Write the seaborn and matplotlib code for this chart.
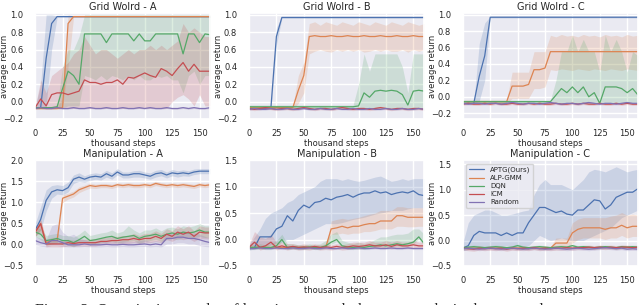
import numpy as np
import matplotlib
matplotlib.use("Agg")
import matplotlib.pyplot as plt
import seaborn as sns

# sample positions (thousand steps): 0, 5, ..., 160 -> 33 values
STEPS = list(range(0, 161, 5))
ALGOS = ["APTG(Ours)", "ALP-GMM", "DQN", "ICM", "Random"]

# ---------------- Grid World - A ----------------
GA_APTG = [-0.07, -0.07, 0.5, 0.9] + [0.98] * 29
GA_APTG_LO = [-0.08, -0.08, -0.05, 0.6] + [0.97] * 29
GA_APTG_HI = [-0.06, 0.2, 1.0, 1.0] + [0.99] * 29
GA_ALP = [-0.08, -0.08, -0.08, -0.08, -0.08, -0.07, 0.9] + [0.98] * 26
GA_ALP_LO = [-0.09, -0.09, -0.09, -0.09, -0.09, -0.08, 0.4] + [0.97] * 26
GA_ALP_HI = [-0.07, -0.07, -0.07, -0.07, -0.07, 0.05, 1.0] + [0.99] * 26
GA_DQN = [-0.07, -0.07, -0.07, -0.07, -0.06, 0.15, 0.35, 0.3, 0.2, 0.78, 0.78,
          0.78, 0.78, 0.68, 0.78, 0.78, 0.78, 0.78, 0.7, 0.78, 0.7, 0.7,
          0.78, 0.78, 0.78, 0.78, 0.78, 0.55, 0.78, 0.78, 0.68, 0.78, 0.77]
GA_DQN_LO = [-0.08, -0.08, -0.08, -0.08, -0.08, -0.07, -0.05, -0.05, -0.05, 0.3, 0.28,
             0.25, 0.3, 0.25, 0.3, 0.28, 0.25, 0.3, 0.25, 0.3, 0.25, 0.25,
             0.3, 0.28, 0.3, 0.25, 0.25, 0.1, 0.3, 0.35, 0.2, 0.3, 0.3]
GA_DQN_HI = [-0.06, -0.06, -0.06, -0.06, -0.04, 0.4, 0.6, 0.6, 0.75, 1.0, 1.0] + [1.0] * 22
GA_ICM = [-0.07, 0.03, -0.05, 0.08, 0.1, 0.1, 0.08, 0.1, 0.12, 0.25, 0.22,
          0.22, 0.2, 0.22, 0.22, 0.25, 0.2, 0.28, 0.27, 0.3, 0.33, 0.3,
          0.28, 0.38, 0.35, 0.3, 0.38, 0.45, 0.35, 0.43, 0.35, 0.35, 0.35]
GA_ICM_LO = [-0.08] * 25 + [0.0, 0.05, 0.08, 0.03, -0.05, 0.08, -0.05, -0.05]
GA_ICM_HI = [-0.06, 0.25, 0.1, 0.3, 0.35, 0.4, 0.45, 0.55, 0.6, 0.75, 0.65,
             0.55, 0.6, 0.6, 0.55, 0.5, 0.55, 0.6, 0.55, 0.6, 0.6, 0.65,
             0.6, 0.65, 0.6, 0.65, 0.7, 0.9, 0.8, 0.85, 0.8, 0.75, 0.75]
GA_RND = [-0.08, -0.07, -0.08, -0.08, -0.07, -0.08, -0.08, -0.07, -0.08, -0.08, -0.07,
          -0.08, -0.08, -0.07, -0.08, -0.08, -0.07, -0.08, -0.08, -0.07, -0.08, -0.07,
          -0.08, -0.08, -0.07, -0.08, -0.08, -0.07, -0.08, -0.07, -0.08, -0.08, -0.07]

# ---------------- Grid World - B ----------------
GB_APTG = [-0.08, -0.08, -0.08, -0.08, -0.07, 0.75] + [0.97] * 27
GB_APTG_LO = [-0.09, -0.09, -0.09, -0.09, -0.09, 0.65] + [0.96] * 27
GB_APTG_HI = [-0.07, -0.07, -0.07, -0.07, -0.05, 0.85] + [0.98] * 27
GB_ALP = [-0.07] * 9 + [0.13, 0.3] + [
    0.75, 0.76, 0.75, 0.75, 0.76, 0.75, 0.75, 0.76, 0.75, 0.75, 0.76,
    0.75, 0.75, 0.76, 0.75, 0.75, 0.76, 0.75, 0.75, 0.76, 0.75, 0.75]
GB_ALP_LO = [-0.09] * 9 + [-0.02, 0.1] + [
    0.55, 0.58, 0.6, 0.58, 0.57, 0.6, 0.58, 0.6, 0.58, 0.6, 0.57,
    0.58, 0.6, 0.58, 0.6, 0.58, 0.58, 0.6, 0.57, 0.6, 0.58, 0.6]
GB_ALP_HI = [-0.05] * 9 + [0.3, 0.45] + [
    0.9, 0.92, 0.88, 0.92, 0.9, 0.88, 0.92, 0.9, 0.88, 0.92, 0.9,
    0.88, 0.92, 0.9, 0.88, 0.92, 0.9, 0.88, 0.92, 0.9, 0.88, 0.9]
GB_DQN = [-0.06] * 20 + [-0.05, 0.1, 0.05, 0.12, 0.13, 0.12, 0.13, 0.12, 0.08, -0.04, 0.12, 0.13, 0.12]
GB_DQN_LO = [-0.08] * 33
GB_DQN_HI = [-0.04] * 20 + [0.2, 0.55, 0.35, 0.55, 0.55, 0.55, 0.55, 0.55, 0.4, 0.1, 0.55, 0.55, 0.55]
GB_ICM = [-0.08, -0.09, -0.08, -0.07, -0.08, -0.09, -0.08, -0.08, -0.09, -0.08, -0.07,
          -0.08, -0.09, -0.08, -0.08, -0.09, -0.08, -0.07, -0.08, -0.09, -0.08, -0.08,
          -0.09, -0.08, -0.07, -0.08, -0.09, -0.08, -0.08, -0.09, -0.08, -0.08, -0.09]
GB_RND = [-0.09, -0.08, -0.09, -0.09, -0.08, -0.09, -0.09, -0.08, -0.09, -0.09, -0.08,
          -0.09, -0.09, -0.08, -0.09, -0.09, -0.08, -0.09, -0.09, -0.08, -0.09, -0.09,
          -0.08, -0.09, -0.09, -0.08, -0.09, -0.09, -0.08, -0.09, -0.09, -0.08, -0.09]

# ---------------- Grid World - C ----------------
GC_APTG = [-0.08, -0.08, -0.08, 0.25, 0.5] + [0.97] * 28
GC_APTG_LO = [-0.09, -0.09, -0.09, -0.05, 0.2] + [0.96] * 28
GC_APTG_HI = [-0.07, -0.07, -0.07, 0.65, 0.9] + [0.98] * 28
GC_ALP = [-0.06] * 9 + [0.13, 0.13, 0.13, 0.15, 0.33, 0.33, 0.35] + [0.55] * 17
GC_ALP_LO = [-0.08] * 9 + [-0.02, -0.02, -0.02, -0.02, 0.1, 0.1, 0.12] + [
    0.33, 0.32, 0.34, 0.33, 0.32, 0.34, 0.33, 0.32, 0.34,
    0.33, 0.32, 0.34, 0.33, 0.32, 0.34, 0.33, 0.32]
GC_ALP_HI = [-0.04] * 9 + [0.3, 0.3, 0.3, 0.3, 0.55, 0.55, 0.55] + [
    0.75, 0.73, 0.76, 0.74, 0.75, 0.73, 0.76, 0.74, 0.75,
    0.73, 0.76, 0.74, 0.75, 0.73, 0.76, 0.74, 0.75]
GC_DQN = [-0.06] * 17 + [0.02, 0.1, 0.05, 0.12, 0.05, 0.12, 0.0, 0.05,
                         -0.08, 0.12, 0.12, 0.12, 0.1, 0.05, 0.1, 0.02]
GC_DQN_LO = [-0.08] * 33
GC_DQN_HI = [-0.04] * 17 + [0.2, 0.55, 0.55, 0.75, 0.55, 0.7, 0.55, 0.55,
                            0.3, 0.75, 0.55, 0.7, 0.55, 0.3, 0.55, 0.5]
GC_ICM = [-0.09, -0.08, -0.09, -0.09, -0.08, -0.09, -0.08, -0.09, -0.09, -0.08, -0.09,
          -0.09, -0.08, -0.09, -0.08, -0.09, -0.09, -0.08, -0.09, -0.09, -0.08, -0.09,
          -0.08, -0.09, -0.09, -0.08, -0.09, -0.09, -0.08, -0.09, -0.08, -0.09, -0.09]
GC_RND = [-0.08, -0.09, -0.08, -0.08, -0.09, -0.08, -0.08, -0.09, -0.08, -0.07, -0.08,
          -0.09, -0.08, -0.08, -0.09, -0.08, -0.07, -0.08, -0.09, -0.08, -0.08, -0.09,
          -0.08, -0.07, -0.08, -0.09, -0.08, -0.08, -0.09, -0.08, -0.07, -0.08, -0.08]

# ---------------- Manipulation - A ----------------
MA_APTG = [0.35, 0.6, 1.05, 1.25, 1.3, 1.28, 1.35, 1.55, 1.6, 1.55, 1.6,
           1.62, 1.6, 1.68, 1.62, 1.72, 1.65, 1.65, 1.68, 1.68, 1.65, 1.62,
           1.68, 1.7, 1.65, 1.7, 1.68, 1.7, 1.68, 1.72, 1.74, 1.74, 1.74]
MA_APTG_LO = [0.2, 0.35, 0.8, 1.1, 1.2, 1.18, 1.25, 1.45, 1.5, 1.48, 1.52,
              1.55, 1.53, 1.6, 1.55, 1.65, 1.58, 1.58, 1.6, 1.6, 1.58, 1.55,
              1.6, 1.63, 1.58, 1.63, 1.6, 1.63, 1.62, 1.66, 1.68, 1.68, 1.68]
MA_APTG_HI = [0.5, 0.9, 1.3, 1.4, 1.42, 1.4, 1.48, 1.65, 1.7, 1.63, 1.68,
              1.7, 1.68, 1.76, 1.7, 1.8, 1.72, 1.72, 1.75, 1.76, 1.72, 1.7,
              1.76, 1.78, 1.72, 1.78, 1.75, 1.77, 1.75, 1.79, 1.8, 1.8, 1.8]
MA_ALP = [0.3, 0.5, 0.05, 0.1, 0.1, 1.1, 1.15, 1.2, 1.3, 1.35, 1.4,
          1.38, 1.4, 1.4, 1.38, 1.42, 1.4, 1.42, 1.4, 1.4, 1.42, 1.4,
          1.45, 1.42, 1.4, 1.42, 1.4, 1.42, 1.4, 1.38, 1.42, 1.4, 1.42]
MA_ALP_LO = [0.2, 0.35, -0.02, 0.02, 0.03, 1.0, 1.08, 1.13, 1.23, 1.29, 1.34,
             1.33, 1.35, 1.35, 1.33, 1.37, 1.35, 1.37, 1.35, 1.35, 1.37, 1.35,
             1.4, 1.37, 1.35, 1.37, 1.35, 1.37, 1.35, 1.33, 1.37, 1.35, 1.37]
MA_ALP_HI = [0.4, 0.6, 0.12, 0.18, 0.18, 1.18, 1.22, 1.27, 1.37, 1.41, 1.46,
             1.43, 1.45, 1.45, 1.43, 1.47, 1.45, 1.47, 1.45, 1.45, 1.47, 1.45,
             1.5, 1.47, 1.45, 1.47, 1.45, 1.47, 1.45, 1.43, 1.47, 1.45, 1.47]
MA_DQN = [0.3, 0.25, 0.1, 0.12, 0.15, 0.1, 0.1, 0.05, 0.12, 0.2, 0.1,
          0.12, 0.15, 0.18, 0.2, 0.15, 0.18, 0.2, 0.22, 0.15, 0.2, 0.22,
          0.25, 0.2, 0.25, 0.28, 0.25, 0.3, 0.28, 0.3, 0.35, 0.3, 0.3]
MA_DQN_LO = [0.2, 0.12, 0.0, 0.02, 0.05, 0.0, 0.0, -0.05, 0.02, 0.08, 0.0,
             0.02, 0.05, 0.06, 0.08, 0.04, 0.06, 0.08, 0.1, 0.03, 0.08, 0.1,
             0.13, 0.08, 0.13, 0.15, 0.12, 0.17, 0.15, 0.17, 0.2, 0.17, 0.17]
MA_DQN_HI = [0.4, 0.38, 0.22, 0.25, 0.27, 0.22, 0.22, 0.18, 0.25, 0.35, 0.22,
             0.25, 0.28, 0.3, 0.35, 0.28, 0.32, 0.45, 0.35, 0.28, 0.35, 0.35,
             0.4, 0.33, 0.4, 0.42, 0.38, 0.45, 0.42, 0.45, 0.5, 0.45, 0.45]
MA_ICM = [0.3, 0.5, 0.02, 0.02, 0.02, 0.02, 0.05, 0.03, 0.05, 0.05, 0.05,
          0.05, 0.08, 0.08, 0.1, 0.1, 0.12, 0.12, 0.15, 0.12, 0.15, 0.15,
          0.2, 0.15, 0.25, 0.2, 0.3, 0.25, 0.3, 0.2, 0.3, 0.28, 0.28]
MA_ICM_LO = [0.2, 0.3, -0.05, -0.05, -0.05, -0.05, -0.03, -0.04, -0.03, -0.03, -0.03,
             -0.03, 0.0, 0.0, 0.02, 0.02, 0.03, 0.03, 0.05, 0.03, 0.05, 0.05,
             0.08, 0.05, 0.12, 0.08, 0.15, 0.12, 0.15, 0.08, 0.15, 0.14, 0.14]
MA_ICM_HI = [0.4, 0.6, 0.1, 0.1, 0.1, 0.1, 0.13, 0.11, 0.13, 0.13, 0.13,
             0.13, 0.17, 0.17, 0.2, 0.2, 0.22, 0.22, 0.27, 0.22, 0.27, 0.27,
             0.33, 0.27, 0.38, 0.33, 0.45, 0.38, 0.45, 0.33, 0.45, 0.42, 0.42]
MA_RND = [0.1, 0.05, 0.02, 0.1, 0.1, 0.05, 0.0, 0.0, 0.0, 0.02, 0.0,
          0.0, 0.0, 0.01, 0.0, 0.0, 0.01, 0.0, 0.0, 0.01, 0.02, 0.0,
          0.02, 0.0, 0.15, 0.15, 0.18, 0.18, 0.15, 0.15, 0.12, 0.08, 0.05]
MA_RND_LO = [0.0, -0.03, -0.05, -0.02, -0.02, -0.04, -0.05, -0.05, -0.05, -0.04, -0.05,
             -0.05, -0.05, -0.04, -0.05, -0.05, -0.04, -0.05, -0.05, -0.04, -0.04, -0.05,
             -0.04, -0.05, 0.02, 0.02, 0.05, 0.05, 0.02, 0.02, -0.02, -0.04, -0.05]
MA_RND_HI = [0.2, 0.15, 0.12, 0.45, 0.5, 0.3, 0.2, 0.25, 0.15, 0.12, 0.08,
             0.08, 0.08, 0.1, 0.08, 0.08, 0.1, 0.08, 0.08, 0.1, 0.12, 0.08,
             0.1, 0.08, 0.28, 0.28, 0.32, 0.32, 0.28, 0.28, 0.25, 0.2, 0.15]

# ---------------- Manipulation - B ----------------
MB_APTG = [-0.17, -0.15, 0.05, 0.05, 0.05, 0.2, 0.25, 0.45, 0.35, 0.55, 0.65,
           0.6, 0.7, 0.72, 0.78, 0.75, 0.8, 0.82, 0.85, 0.8, 0.85, 0.88,
           0.88, 0.92, 0.88, 0.9, 0.85, 0.88, 0.9, 0.88, 0.92, 0.85, 0.83]
MB_APTG_LO = [-0.2, -0.18, -0.15, -0.12, -0.1, -0.07, -0.05, 0.0, 0.0, 0.05, 0.1,
              0.15, 0.2, 0.25, 0.3, 0.3, 0.3, 0.32, 0.35, 0.38, 0.4, 0.42,
              0.45, 0.48, 0.5, 0.52, 0.55, 0.55, 0.55, 0.58, 0.6, 0.6, 0.6]
MB_APTG_HI = [-0.1, 0.05, 0.2, 0.4, 0.5, 0.55, 0.6, 0.7, 0.75, 0.85, 0.9,
              0.95, 1.0, 1.1, 1.15, 1.15, 1.15, 1.12, 1.15, 1.12, 1.1, 1.12,
              1.15, 1.18, 1.2, 1.15, 1.1, 1.12, 1.15, 1.12, 1.15, 1.15, 1.15]
MB_ALP = [-0.15] * 15 + [0.2, 0.22, 0.25, 0.22, 0.25, 0.25, 0.28, 0.3, 0.3,
                         0.35, 0.35, 0.35, 0.45, 0.45, 0.42, 0.42, 0.42, 0.42]
MB_ALP_LO = [-0.17] * 15 + [0.1, 0.1, 0.12, 0.1, 0.12, 0.12, 0.15, 0.15, 0.17,
                            0.2, 0.2, 0.2, 0.25, 0.25, 0.24, 0.24, 0.25, 0.25]
MB_ALP_HI = [-0.13] * 15 + [0.35, 0.38, 0.4, 0.38, 0.4, 0.42, 0.45, 0.48, 0.5,
                            0.55, 0.55, 0.55, 0.62, 0.62, 0.6, 0.6, 0.6, 0.6]
MB_DQN = [-0.15, -0.15, -0.14, -0.15, -0.15, -0.12, 0.0, -0.15, -0.14, -0.15, -0.15,
          -0.14, -0.15, -0.15, -0.12, -0.05, 0.0, -0.12, -0.14, -0.15, -0.14, -0.15,
          -0.13, -0.12, -0.1, -0.12, -0.1, -0.08, -0.1, -0.08, -0.05, 0.05, -0.08]
MB_DQN_HI = [-0.1, -0.1, -0.08, -0.1, -0.08, -0.02, 0.1, -0.08, -0.08, -0.1, -0.1,
             -0.08, -0.1, -0.08, -0.02, 0.1, 0.15, -0.02, -0.05, -0.08, -0.05, -0.08,
             -0.05, 0.0, 0.05, 0.05, 0.08, 0.1, 0.1, 0.12, 0.2, 0.2, 0.1]
MB_ICM = [-0.15, -0.05, -0.15, -0.12, -0.05, -0.15, -0.12, -0.15, -0.13, -0.15, -0.14,
          -0.15, -0.13, -0.15, -0.14, -0.15, -0.13, -0.15, -0.14, -0.12, -0.13, -0.12,
          -0.1, -0.12, -0.12, -0.1, -0.13, -0.1, -0.12, -0.12, -0.1, -0.12, -0.12]
MB_ICM_HI = [-0.1, 0.15, 0.05, 0.02, 0.1, -0.05, -0.05, -0.08, -0.08, -0.1, -0.08,
             -0.1, -0.08, -0.1, -0.08, -0.1, -0.08, -0.1, -0.08, -0.05, -0.05, -0.05,
             -0.02, -0.05, -0.05, -0.02, -0.05, -0.02, -0.05, -0.05, -0.02, -0.05, -0.05]
MB_RND = [-0.17, -0.17, -0.16, -0.17, -0.17, -0.16, -0.17, -0.17, -0.16, -0.17, -0.17,
          -0.16, -0.17, -0.17, -0.16, -0.17, -0.17, -0.16, -0.17, -0.17, -0.16, -0.17,
          -0.17, -0.16, -0.17, -0.17, -0.16, -0.17, -0.17, -0.16, -0.17, -0.17, -0.17]

# ---------------- Manipulation - C ----------------
MC_APTG = [-0.15, -0.1, 0.1, 0.18, 0.15, 0.15, 0.15, 0.1, 0.15, 0.1, 0.15,
           0.15, 0.35, 0.5, 0.65, 0.65, 0.6, 0.55, 0.58, 0.52, 0.5, 0.6,
           0.6, 0.7, 0.8, 0.78, 0.62, 0.7, 0.85, 0.9, 0.95, 0.95, 1.02]
MC_APTG_LO = [-0.2, -0.18, -0.15, -0.15, -0.15, -0.15, -0.15, -0.12, -0.1, -0.12, -0.15,
              -0.12, -0.1, 0.0, 0.1, 0.05, 0.0, 0.02, 0.05, 0.02, 0.0, 0.0,
              0.0, 0.05, 0.1, 0.15, 0.2, 0.25, 0.35, 0.45, 0.5, 0.55, 0.6]
MC_APTG_HI = [-0.05, 0.35, 0.5, 0.55, 0.6, 0.6, 0.55, 0.5, 0.5, 0.52, 0.55,
              0.58, 0.6, 0.9, 1.1, 1.2, 1.1, 1.1, 1.1, 1.05, 1.0, 1.1,
              1.2, 1.35, 1.4, 1.38, 1.35, 1.4, 1.45, 1.4, 1.35, 1.38, 1.4]
MC_ALP = [-0.15] * 17 + [-0.05, -0.05, -0.05, 0.15, 0.22, 0.25, 0.25, 0.25,
                         0.25, 0.22, 0.25, 0.25, 0.3, 0.25, 0.28, 0.28]
MC_ALP_LO = [-0.17] * 17 + [-0.15, -0.15, -0.15, -0.05, 0.02, 0.05, 0.05, 0.05,
                            0.05, 0.02, 0.05, 0.05, 0.1, 0.05, 0.08, 0.08]
MC_ALP_HI = [-0.13] * 17 + [0.05, 0.05, 0.05, 0.35, 0.42, 0.45, 0.45, 0.45,
                            0.45, 0.45, 0.48, 0.5, 0.55, 0.5, 0.52, 0.5]
MC_DQN = [-0.14, -0.13, -0.12, -0.13, -0.14, -0.13, -0.12, -0.13, -0.14, -0.13, -0.1,
          -0.13, -0.14, -0.13, -0.12, -0.13, -0.14, -0.13, -0.12, -0.13, -0.1, -0.13,
          -0.12, -0.13, -0.14, -0.13, -0.12, -0.13, -0.14, -0.12, -0.13, -0.12, -0.13]
MC_ICM = [-0.15, -0.16, -0.17, -0.15, -0.16, -0.15, -0.16, -0.15, -0.17, -0.15, -0.16,
          -0.15, -0.16, -0.14, -0.16, -0.15, -0.16, -0.15, -0.15, -0.14, -0.15, -0.14,
          -0.14, -0.13, -0.14, -0.13, -0.14, -0.13, -0.14, -0.13, -0.13, -0.14, -0.13]
MC_RND = [-0.16, -0.15, -0.16, -0.17, -0.16, -0.15, -0.16, -0.17, -0.16, -0.15, -0.16,
          -0.17, -0.16, -0.15, -0.16, -0.17, -0.16, -0.15, -0.16, -0.17, -0.16, -0.15,
          -0.16, -0.17, -0.16, -0.15, -0.14, -0.15, -0.16, -0.15, -0.17, -0.16, -0.17]

CAPTION = "Figure 3: Quantitative results of learning to reach the target tasks in the targeted"


def band(mean, lo=None, hi=None, width=0.02):
    m = np.array(mean, dtype=float)
    l = np.array(lo, dtype=float) if lo is not None else m - width
    h = np.array(hi, dtype=float) if hi is not None else m + width
    n = len(STEPS)
    if len(m) != n or len(l) != n or len(h) != n:
        raise ValueError(f"bad length {len(m)} {len(l)} {len(h)} starting {mean[:3]}")
    return m, l, h


panels = [
    ("Grid Wolrd - A", (-0.2, 1.02), [-0.2, 0.0, 0.2, 0.4, 0.6, 0.8, 1.0], [
        band(GA_APTG, GA_APTG_LO, GA_APTG_HI), band(GA_ALP, GA_ALP_LO, GA_ALP_HI),
        band(GA_DQN, GA_DQN_LO, GA_DQN_HI), band(GA_ICM, GA_ICM_LO, GA_ICM_HI),
        band(GA_RND, width=0.01)]),
    ("Grid Wolrd - B", (-0.2, 1.02), [-0.2, 0.0, 0.2, 0.4, 0.6, 0.8, 1.0], [
        band(GB_APTG, GB_APTG_LO, GB_APTG_HI), band(GB_ALP, GB_ALP_LO, GB_ALP_HI),
        band(GB_DQN, GB_DQN_LO, GB_DQN_HI), band(GB_ICM, width=0.015),
        band(GB_RND, width=0.01)]),
    ("Grid Wolrd - C", (-0.27, 1.02), [-0.2, 0.0, 0.2, 0.4, 0.6, 0.8, 1.0], [
        band(GC_APTG, GC_APTG_LO, GC_APTG_HI), band(GC_ALP, GC_ALP_LO, GC_ALP_HI),
        band(GC_DQN, GC_DQN_LO, GC_DQN_HI), band(GC_ICM, width=0.015),
        band(GC_RND, width=0.01)]),
    ("Manipulation - A", (-0.5, 2.0), [-0.5, 0.0, 0.5, 1.0, 1.5, 2.0], [
        band(MA_APTG, MA_APTG_LO, MA_APTG_HI), band(MA_ALP, MA_ALP_LO, MA_ALP_HI),
        band(MA_DQN, MA_DQN_LO, MA_DQN_HI), band(MA_ICM, MA_ICM_LO, MA_ICM_HI),
        band(MA_RND, MA_RND_LO, MA_RND_HI)]),
    ("Manipulation - B", (-0.5, 1.5), [-0.5, 0.0, 0.5, 1.0, 1.5], [
        band(MB_APTG, MB_APTG_LO, MB_APTG_HI), band(MB_ALP, MB_ALP_LO, MB_ALP_HI),
        band(MB_DQN, np.array(MB_DQN) - 0.04, MB_DQN_HI),
        band(MB_ICM, np.array(MB_ICM) - 0.05, MB_ICM_HI),
        band(MB_RND, width=0.02)]),
    ("Manipulation - C", (-0.5, 1.58), [-0.5, 0.0, 0.5, 1.0, 1.5], [
        band(MC_APTG, MC_APTG_LO, MC_APTG_HI), band(MC_ALP, MC_ALP_LO, MC_ALP_HI),
        band(MC_DQN, width=0.03), band(MC_ICM, width=0.04),
        band(MC_RND, width=0.03)]),
]

sns.set_theme(style="darkgrid", palette="deep")
plt.rcParams["font.family"] = ["DejaVu Sans"]
colors = sns.color_palette("deep", 5)

fig, axes = plt.subplots(2, 3, figsize=(6.4, 3.05), dpi=100)
fig.subplots_adjust(left=0.055, right=0.997, top=0.957, bottom=0.128, wspace=0.22, hspace=0.39)

x = np.array(STEPS)
for ax, (title, ylim, yticks, series) in zip(axes.flat, panels):
    for (m, lo, hi), c, name in zip(series, colors, ALGOS):
        sns.lineplot(x=x, y=m, ax=ax, color=c, linewidth=0.9, label=name)
        ax.fill_between(x, lo, hi, color=c, alpha=0.2, linewidth=0)
    ax.set_xlim(0, 160)
    ax.set_ylim(*ylim)
    ax.set_xticks([0, 25, 50, 75, 100, 125, 150])
    ax.set_yticks(yticks)
    ax.tick_params(axis="y", labelsize=6, pad=2.5)
    ax.tick_params(axis="x", labelsize=6, pad=1.5)
    ax.set_title(title, fontsize=7, pad=2)
    ax.set_xlabel("thousand steps", fontsize=6, labelpad=0.5)
    ax.set_ylabel("average return", fontsize=6)
    ax.yaxis.set_label_coords(-0.15, 0.5)
    if title != "Manipulation - C":
        ax.get_legend().remove()
    else:
        ax.legend(loc="upper left", fontsize=5, handlelength=2.2, borderpad=0.4,
                  labelspacing=0.3, frameon=True)

# figure caption, cut off by the bottom edge as in the source page
fig.text(35 / 640, 2 / 305, CAPTION, ha="left", va="top", fontsize=11.5,
         family="Liberation Serif")

fig.savefig("out.png", dpi=100)
